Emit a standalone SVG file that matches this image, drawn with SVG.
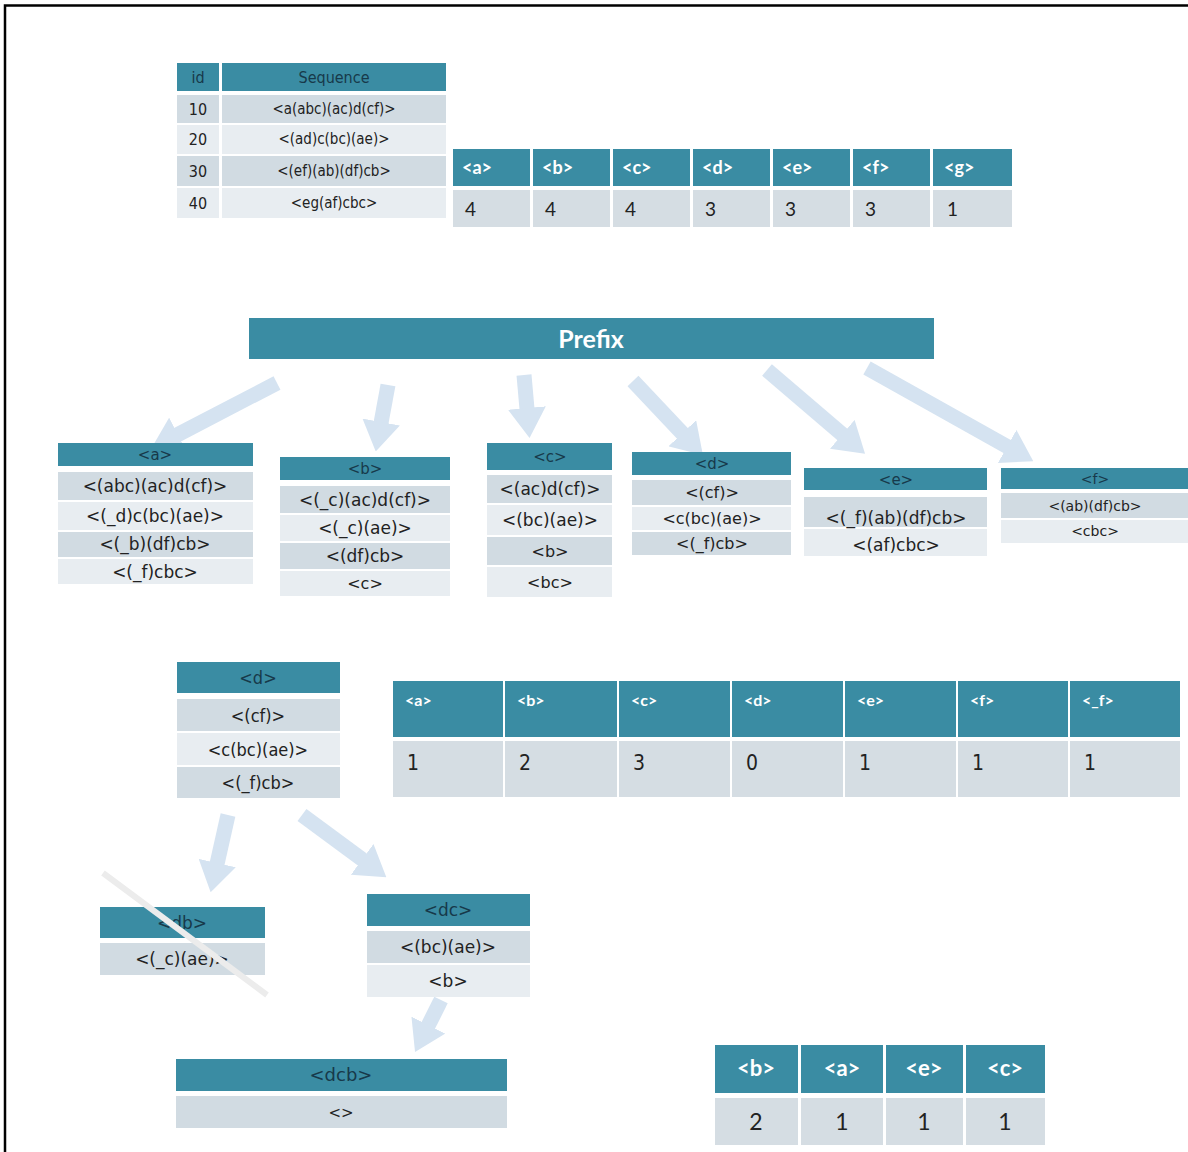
<svg xmlns="http://www.w3.org/2000/svg" width="1188" height="1152" viewBox="0 0 1188 1152">
<defs>
<style>
.hd{fill:#3a8ca3}
.r1{fill:#d1dbe2}
.r2{fill:#e8edf1}
.rv{fill:#d5dde3}
.arr{stroke:#d5e3f1;stroke-width:15;fill:none;marker-end:url(#ah)}
.t{font-family:'DejaVu Sans',Verdana,sans-serif;fill:#222;text-anchor:middle}
.th{font-family:'DejaVu Sans',Verdana,sans-serif;fill:#17394a;text-anchor:middle}
.cn{font-family:'Liberation Sans Narrow','DejaVu Sans Condensed','Liberation Sans',sans-serif;font-stretch:condensed;fill:#222;text-anchor:middle}
.cnh{font-family:'Liberation Sans Narrow','DejaVu Sans Condensed','Liberation Sans',sans-serif;font-stretch:condensed;fill:#17394a;text-anchor:middle}
.wb{font-family:Lato,'Liberation Sans',sans-serif;font-weight:bold;fill:#ffffff}
.num{font-family:Lato,'Liberation Sans',sans-serif;fill:#222}
</style>
<marker id="ah" markerUnits="userSpaceOnUse" viewBox="0 0 30 38" refX="1" refY="19" markerWidth="30" markerHeight="38" orient="auto">
<path d="M0,0 L30,19 L0,38 z" fill="#d5e3f1"/>
</marker>
</defs>
<rect width="1188" height="1152" fill="#ffffff"/>
<g id="frame"><path d="M5,1152 V5.5 H1188" fill="none" stroke="#000" stroke-width="2.5"/></g>

<g id="seq-table">
<rect class="hd" x="177" y="63" width="42" height="28"/>
<rect class="hd" x="222" y="63" width="224" height="28"/>
<text class="cnh" x="198" y="83" font-size="16">id</text>
<text class="cnh" x="334" y="83" font-size="16">Sequence</text>
<rect class="r1" x="177" y="95" width="42" height="28"/><rect class="r1" x="222" y="95" width="224" height="28"/>
<rect class="r2" x="177" y="125" width="42" height="29"/><rect class="r2" x="222" y="125" width="224" height="29"/>
<rect class="r1" x="177" y="156" width="42" height="30"/><rect class="r1" x="222" y="156" width="224" height="30"/>
<rect class="r2" x="177" y="188" width="42" height="30"/><rect class="r2" x="222" y="188" width="224" height="30"/>
<text class="cn" x="198" y="115" font-size="16">10</text><text class="cn" x="334" y="114" font-size="15">&lt;a(abc)(ac)d(cf)&gt;</text>
<text class="cn" x="198" y="145" font-size="16">20</text><text class="cn" x="334" y="144" font-size="15">&lt;(ad)c(bc)(ae)&gt;</text>
<text class="cn" x="198" y="177" font-size="16">30</text><text class="cn" x="334" y="176" font-size="15">&lt;(ef)(ab)(df)cb&gt;</text>
<text class="cn" x="198" y="209" font-size="16">40</text><text class="cn" x="334" y="208" font-size="15">&lt;eg(af)cbc&gt;</text>
</g>

<g id="count-table-1">
<rect class="hd" x="453" y="149" width="77" height="37"/>
<rect class="hd" x="533" y="149" width="77" height="37"/>
<rect class="hd" x="613" y="149" width="77" height="37"/>
<rect class="hd" x="693" y="149" width="77" height="37"/>
<rect class="hd" x="773" y="149" width="77" height="37"/>
<rect class="hd" x="853" y="149" width="77" height="37"/>
<rect class="hd" x="933" y="149" width="79" height="37"/>
<rect class="rv" x="453" y="190" width="77" height="37"/>
<rect class="rv" x="533" y="190" width="77" height="37"/>
<rect class="rv" x="613" y="190" width="77" height="37"/>
<rect class="rv" x="693" y="190" width="77" height="37"/>
<rect class="rv" x="773" y="190" width="77" height="37"/>
<rect class="rv" x="853" y="190" width="77" height="37"/>
<rect class="rv" x="933" y="190" width="79" height="37"/>
<g class="wb" font-size="18">
<text x="462" y="174">&lt;a&gt;</text><text x="542" y="174">&lt;b&gt;</text><text x="622" y="174">&lt;c&gt;</text><text x="702" y="174">&lt;d&gt;</text><text x="782" y="174">&lt;e&gt;</text><text x="862" y="174">&lt;f&gt;</text><text x="944" y="174">&lt;g&gt;</text>
</g>
<g class="num" font-size="19">
<text x="465" y="216">4</text><text x="545" y="216">4</text><text x="625" y="216">4</text><text x="705" y="216">3</text><text x="785" y="216">3</text><text x="865" y="216">3</text><text x="947" y="216">1</text>
</g>
</g>

<g id="prefix">
<rect class="hd" x="249" y="318" width="685" height="41"/>
<text class="wb" x="591" y="348" font-size="25" text-anchor="middle">Prefix</text>
</g>

<g id="connectors">
<line class="arr" x1="277" y1="383" x2="177" y2="435"/>
<line class="arr" x1="388" y1="385" x2="381" y2="423"/>
<line class="arr" x1="524" y1="375" x2="527" y2="409"/>
<line class="arr" x1="633" y1="381" x2="683" y2="434"/>
<line class="arr" x1="767" y1="370" x2="843" y2="435"/>
<line class="arr" x1="867" y1="368" x2="1008" y2="447"/>
<line class="arr" x1="228" y1="815" x2="217" y2="864"/>
<line class="arr" x1="302" y1="815" x2="363" y2="860"/>
<line class="arr" x1="441" y1="1000" x2="428" y2="1026"/>
</g>

<g id="proj-a">
<rect class="hd" x="58" y="443" width="195" height="23"/>
<rect class="r1" x="58" y="472" width="195" height="28"/>
<rect class="r2" x="58" y="502" width="195" height="28"/>
<rect class="r1" x="58" y="532" width="195" height="25"/>
<rect class="r2" x="58" y="559" width="195" height="25"/>
<text class="th" x="155" y="460" font-size="15">&lt;a&gt;</text>
<text class="t" x="155" y="492" font-size="17">&lt;(abc)(ac)d(cf)&gt;</text>
<text class="t" x="155" y="522" font-size="17">&lt;(_d)c(bc)(ae)&gt;</text>
<text class="t" x="155" y="550" font-size="17">&lt;(_b)(df)cb&gt;</text>
<text class="t" x="155" y="578" font-size="17">&lt;(_f)cbc&gt;</text>
</g>

<g id="proj-b">
<rect class="hd" x="280" y="457" width="170" height="23"/>
<rect class="r1" x="280" y="486" width="170" height="27"/>
<rect class="r2" x="280" y="515" width="170" height="26"/>
<rect class="r1" x="280" y="543" width="170" height="26"/>
<rect class="r2" x="280" y="571" width="170" height="25"/>
<text class="th" x="365" y="474" font-size="15">&lt;b&gt;</text>
<text class="t" x="365" y="506" font-size="17">&lt;(_c)(ac)d(cf)&gt;</text>
<text class="t" x="365" y="534" font-size="17">&lt;(_c)(ae)&gt;</text>
<text class="t" x="365" y="562" font-size="17">&lt;(df)cb&gt;</text>
<text class="t" x="365" y="589" font-size="16">&lt;c&gt;</text>
</g>

<g id="proj-c">
<rect class="hd" x="487" y="443" width="125" height="27"/>
<rect class="r1" x="487" y="475" width="125" height="28"/>
<rect class="r2" x="487" y="505" width="125" height="30"/>
<rect class="r1" x="487" y="537" width="125" height="28"/>
<rect class="r2" x="487" y="567" width="125" height="30"/>
<text class="th" x="550" y="462" font-size="15">&lt;c&gt;</text>
<text class="t" x="550" y="495" font-size="17">&lt;(ac)d(cf)&gt;</text>
<text class="t" x="550" y="526" font-size="17">&lt;(bc)(ae)&gt;</text>
<text class="t" x="550" y="557" font-size="16">&lt;b&gt;</text>
<text class="t" x="550" y="588" font-size="16">&lt;bc&gt;</text>
</g>

<g id="proj-d">
<rect class="hd" x="632" y="452" width="159" height="23"/>
<rect class="r1" x="632" y="480" width="159" height="25"/>
<rect class="r2" x="632" y="507" width="159" height="23"/>
<rect class="r1" x="632" y="532" width="159" height="23"/>
<text class="th" x="712" y="469" font-size="15">&lt;d&gt;</text>
<text class="t" x="712" y="498" font-size="16">&lt;(cf)&gt;</text>
<text class="t" x="712" y="524" font-size="16">&lt;c(bc)(ae)&gt;</text>
<text class="t" x="712" y="549" font-size="16">&lt;(_f)cb&gt;</text>
</g>

<g id="proj-e">
<rect class="hd" x="804" y="468" width="183" height="22"/>
<rect class="r1" x="804" y="497" width="183" height="30"/>
<rect class="r2" x="804" y="529" width="183" height="27"/>
<text class="th" x="896" y="485" font-size="15">&lt;e&gt;</text>
<text class="t" x="896" y="524" font-size="17">&lt;(_f)(ab)(df)cb&gt;</text>
<text class="t" x="896" y="551" font-size="17">&lt;(af)cbc&gt;</text>
</g>

<g id="proj-f">
<rect class="hd" x="1001" y="468" width="187" height="21"/>
<rect class="r1" x="1001" y="493" width="187" height="25"/>
<rect class="r2" x="1001" y="520" width="187" height="23"/>
<text class="th" x="1095" y="484" font-size="14">&lt;f&gt;</text>
<text class="t" x="1095" y="511" font-size="14">&lt;(ab)(df)cb&gt;</text>
<text class="t" x="1095" y="536" font-size="14">&lt;cbc&gt;</text>
</g>

<g id="d-table">
<rect class="hd" x="177" y="662" width="163" height="31"/>
<rect class="r1" x="177" y="699" width="163" height="32"/>
<rect class="r2" x="177" y="733" width="163" height="32"/>
<rect class="r1" x="177" y="767" width="163" height="31"/>
<text class="cnh" x="258" y="684" font-size="18">&lt;d&gt;</text>
<text class="cn" x="258" y="722" font-size="18">&lt;(cf)&gt;</text>
<text class="cn" x="258" y="756" font-size="18">&lt;c(bc)(ae)&gt;</text>
<text class="cn" x="258" y="789" font-size="18">&lt;(_f)cb&gt;</text>
</g>

<g id="count-table-2">
<rect class="hd" x="393" y="681" width="110" height="56"/>
<rect class="hd" x="505" y="681" width="112" height="56"/>
<rect class="hd" x="619" y="681" width="111" height="56"/>
<rect class="hd" x="732" y="681" width="111" height="56"/>
<rect class="hd" x="845" y="681" width="111" height="56"/>
<rect class="hd" x="958" y="681" width="110" height="56"/>
<rect class="hd" x="1070" y="681" width="110" height="56"/>
<rect class="rv" x="393" y="741" width="110" height="56"/>
<rect class="rv" x="505" y="741" width="112" height="56"/>
<rect class="rv" x="619" y="741" width="111" height="56"/>
<rect class="rv" x="732" y="741" width="111" height="56"/>
<rect class="rv" x="845" y="741" width="111" height="56"/>
<rect class="rv" x="958" y="741" width="110" height="56"/>
<rect class="rv" x="1070" y="741" width="110" height="56"/>
<g class="wb" font-size="16">
<text x="405" y="706">&lt;a&gt;</text><text x="517" y="706">&lt;b&gt;</text><text x="631" y="706">&lt;c&gt;</text><text x="744" y="706">&lt;d&gt;</text><text x="857" y="706">&lt;e&gt;</text><text x="970" y="706">&lt;f&gt;</text><text x="1082" y="706">&lt;_f&gt;</text>
</g>
<g class="cn" font-size="21" style="text-anchor:start">
<text x="407" y="770">1</text><text x="519" y="770">2</text><text x="633" y="770">3</text><text x="746" y="770">0</text><text x="859" y="770">1</text><text x="972" y="770">1</text><text x="1084" y="770">1</text>
</g>
</g>

<g id="db-table">
<rect class="hd" x="100" y="907" width="165" height="31"/>
<rect class="r1" x="100" y="943" width="165" height="32"/>
<text class="th" x="182" y="929" font-size="17">&lt;db&gt;</text>
<text class="t" x="182" y="965" font-size="17">&lt;(_c)(ae)&gt;</text>
<line x1="103" y1="873" x2="267" y2="995" stroke="#ececec" stroke-width="6"/>
</g>

<g id="dc-table">
<rect class="hd" x="367" y="894" width="163" height="32"/>
<rect class="r1" x="367" y="931" width="163" height="32"/>
<rect class="r2" x="367" y="965" width="163" height="32"/>
<text class="th" x="448" y="916" font-size="17">&lt;dc&gt;</text>
<text class="t" x="448" y="953" font-size="17">&lt;(bc)(ae)&gt;</text>
<text class="t" x="448" y="987" font-size="17">&lt;b&gt;</text>
</g>

<g id="dcb-table">
<rect class="hd" x="176" y="1059" width="331" height="32"/>
<rect class="r1" x="176" y="1096" width="331" height="32"/>
<text class="th" x="341" y="1081" font-size="18">&lt;dcb&gt;</text>
<text class="t" x="341" y="1118" font-size="15">&lt;&gt;</text>
</g>

<g id="count-table-3">
<rect class="hd" x="715" y="1045" width="83" height="48"/>
<rect class="hd" x="801" y="1045" width="82" height="48"/>
<rect class="hd" x="886" y="1045" width="77" height="48"/>
<rect class="hd" x="966" y="1045" width="79" height="48"/>
<rect class="rv" x="715" y="1098" width="83" height="47"/>
<rect class="rv" x="801" y="1098" width="82" height="47"/>
<rect class="rv" x="886" y="1098" width="77" height="47"/>
<rect class="rv" x="966" y="1098" width="79" height="47"/>
<g class="wb" font-size="22" text-anchor="middle">
<text x="756" y="1076">&lt;b&gt;</text><text x="842" y="1076">&lt;a&gt;</text><text x="924" y="1076">&lt;e&gt;</text><text x="1005" y="1076">&lt;c&gt;</text>
</g>
<g class="num" font-size="23" text-anchor="middle">
<text x="756" y="1130">2</text><text x="842" y="1130">1</text><text x="924" y="1130">1</text><text x="1005" y="1130">1</text>
</g>
</g>
</svg>
